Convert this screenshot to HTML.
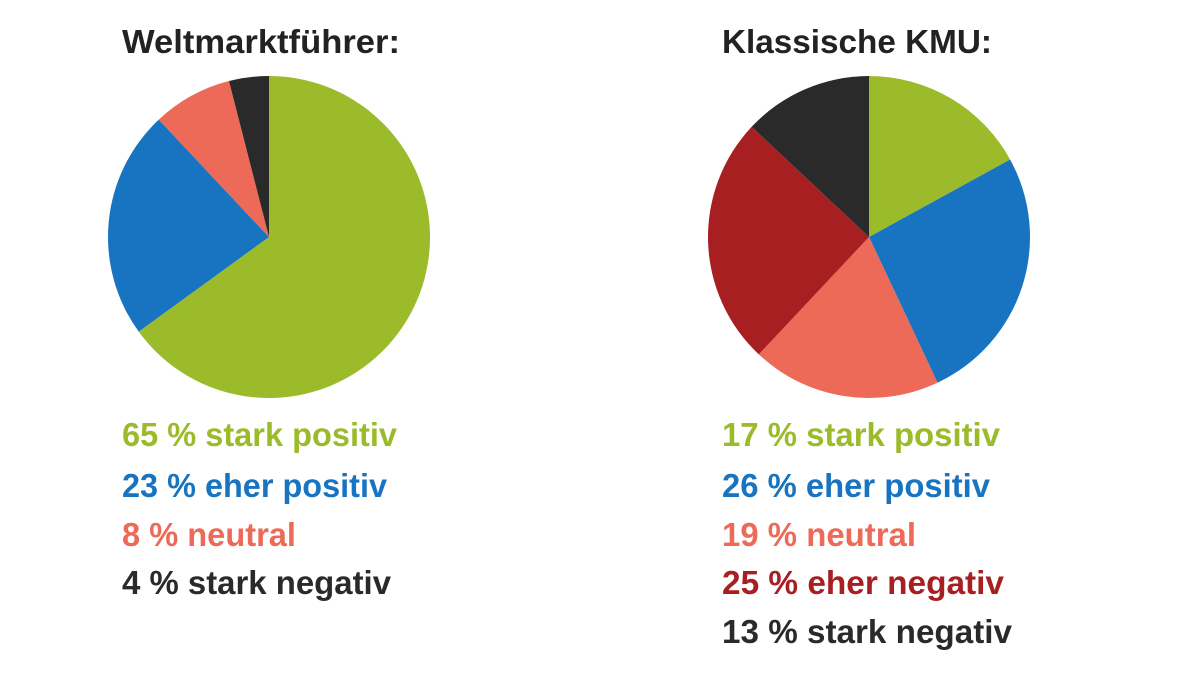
<!DOCTYPE html>
<html><head><meta charset="utf-8"><style>
body{margin:0;background:#fff;}
svg text{font-family:"Liberation Sans",sans-serif;font-weight:bold;font-size:33px;}
</style></head><body>
<svg width="1200" height="675" viewBox="0 0 1200 675" xmlns="http://www.w3.org/2000/svg">
<g id="root"></g>
</svg>
<script>
const leftValues=[65,23,8,4];
const leftLabels=["65 % stark positiv","23 % eher positiv","8 % neutral","4 % stark negativ"];
const leftColors=["#9bbb2b","#1874c1","#ec6a57","#2a2a2a"];
const leftWidths=[275,265,174,269];
const rightValues=[17,26,19,25,13];
const rightLabels=["17 % stark positiv","26 % eher positiv","19 % neutral","25 % eher negativ","13 % stark negativ"];
const rightColors=["#9bbb2b","#1874c1","#ec6a57","#a81f22","#2a2a2a"];
const rightWidths=[278,268,194,282,290];
const NS="http://www.w3.org/2000/svg";
const root=document.getElementById('root');
function txt(x,y,s,color,w,name){
  const t=document.createElementNS(NS,'text');
  t.setAttribute('x',x);t.setAttribute('y',y);t.setAttribute('fill',color);
  t.setAttribute('textLength',w);t.setAttribute('lengthAdjust','spacingAndGlyphs');
  t.textContent=s;
  
  
  root.appendChild(t);
}
function pie(cx,cy,r,vals,cols,prefix){
  const tot=vals.reduce((a,b)=>a+b,0);let a0=0;
  vals.forEach((v,i)=>{
    const a1=a0+v/tot*2*Math.PI;
    const x0=cx+r*Math.sin(a0),y0=cy-r*Math.cos(a0),x1=cx+r*Math.sin(a1),y1=cy-r*Math.cos(a1);
    const p=document.createElementNS(NS,'path');
    p.setAttribute('d',`M${cx},${cy} L${x0},${y0} A${r},${r} 0 ${a1-a0>Math.PI?1:0} 1 ${x1},${y1} Z`);
    p.setAttribute('fill',cols[i]);
    
    
    root.appendChild(p);a0=a1;
  });
}
txt(122,53,"Weltmarktführer:","#222",278,"left-title");
txt(722,53,"Klassische KMU:","#222",270,"right-title");
pie(269,237,161,leftValues,leftColors,"left");
pie(869,237,161,rightValues,rightColors,"right");
const baselines=[446,497,546,594,643];
leftLabels.forEach((s,i)=>txt(122,baselines[i],s,leftColors[i],leftWidths[i],"left-legend-entry"));
rightLabels.forEach((s,i)=>txt(722,baselines[i],s,rightColors[i],rightWidths[i],"right-legend-entry"));
</script>
</body></html>
